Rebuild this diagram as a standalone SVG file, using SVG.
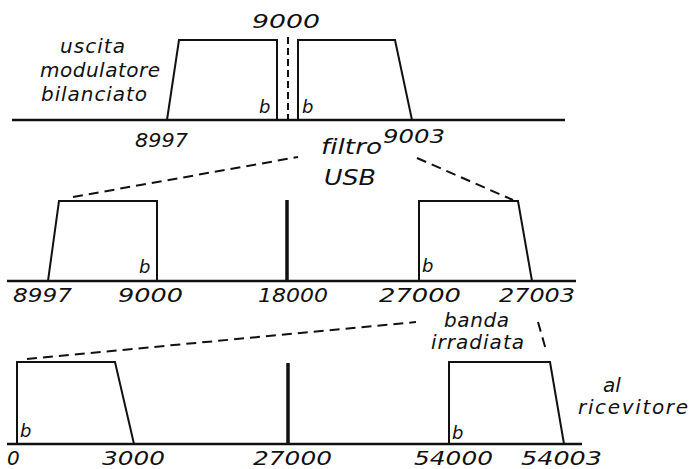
<svg xmlns="http://www.w3.org/2000/svg" width="692" height="469" viewBox="0 0 692 469">
<style>
.ln{fill:none;stroke:#111;stroke-width:2;stroke-linejoin:miter}
.ax{stroke:#111;stroke-width:2.5}
.car{stroke:#111;stroke-width:3.5}
.dash{fill:none;stroke:#111;stroke-width:2;stroke-dasharray:10 6}
.t{font-family:"DejaVu Sans","Liberation Sans",sans-serif;font-style:italic;font-size:20px;fill:#111;font-variant-ligatures:none}
.s{font-size:18px}
.l{font-size:22px}
</style>
<rect width="692" height="469" fill="#fff"/>
<g id="modulatore">
<line class="ax" x1="12" y1="120" x2="565" y2="120"/>
<polyline class="ln" points="167,120 179,40 277,40 277,120"/>
<polyline class="ln" points="298,120 298,40 395,40 412,120"/>
<line x1="288" y1="37" x2="288" y2="120" stroke="#111" stroke-width="2" stroke-dasharray="7 4"/>
<text class="t" x="252" y="28" textLength="68" lengthAdjust="spacingAndGlyphs">9000</text>
<text class="t" x="60" y="53" textLength="65" lengthAdjust="spacing">uscita</text>
<text class="t" x="40" y="77" textLength="120" lengthAdjust="spacing">modulatore</text>
<text class="t" x="41" y="101" textLength="106" lengthAdjust="spacing">bilanciato</text>
<text class="t s" x="259" y="113">b</text>
<text class="t s" x="302" y="113">b</text>
<text class="t" x="135" y="147" textLength="53" lengthAdjust="spacingAndGlyphs">8997</text>
<text class="t" x="383" y="143" textLength="62" lengthAdjust="spacingAndGlyphs">9003</text>
</g>
<g id="filtro-label">
<text class="t l" x="321" y="154" textLength="61" lengthAdjust="spacingAndGlyphs">filtro</text>
<text class="t l" x="324" y="185" textLength="52" lengthAdjust="spacingAndGlyphs">USB</text>
</g>
<g id="conversione">
<line class="ax" x1="7" y1="281" x2="576" y2="281"/>
<polyline class="ln" points="48,281 59,201 157,201 157,281"/>
<line class="car" x1="287" y1="200" x2="287" y2="281"/>
<polyline class="ln" points="419,281 419,201 518,201 532,281"/>
<text class="t s" x="139" y="273">b</text>
<text class="t s" x="422" y="272">b</text>
<text class="t" x="13" y="302" textLength="59" lengthAdjust="spacingAndGlyphs">8997</text>
<text class="t" x="118" y="302" textLength="65" lengthAdjust="spacingAndGlyphs">9000</text>
<text class="t" x="258" y="302" textLength="70" lengthAdjust="spacingAndGlyphs">18000</text>
<text class="t" x="379" y="302" textLength="82" lengthAdjust="spacingAndGlyphs">27000</text>
<text class="t" x="499" y="302" textLength="76" lengthAdjust="spacingAndGlyphs">27003</text>
</g>
<g id="irradiata">
<line class="ax" x1="7" y1="444" x2="582" y2="444"/>
<polyline class="ln" points="17,444 17,362 115,362 134,444"/>
<line class="car" x1="288" y1="363" x2="288" y2="444"/>
<polyline class="ln" points="449,444 449,362 550,362 564,444"/>
<text class="t s" x="20" y="437">b</text>
<text class="t s" x="452" y="439">b</text>
<text class="t" x="7" y="465">0</text>
<text class="t" x="102" y="465" textLength="63" lengthAdjust="spacingAndGlyphs">3000</text>
<text class="t" x="253" y="465" textLength="79" lengthAdjust="spacingAndGlyphs">27000</text>
<text class="t" x="414" y="465" textLength="79" lengthAdjust="spacingAndGlyphs">54000</text>
<text class="t" x="521" y="465" textLength="81" lengthAdjust="spacingAndGlyphs">54003</text>
<text class="t" x="444" y="327" textLength="65" lengthAdjust="spacing">banda</text>
<text class="t" x="431" y="349" textLength="93" lengthAdjust="spacing">irradiata</text>
<text class="t" x="603" y="392">al</text>
<text class="t" x="578" y="414" textLength="110" lengthAdjust="spacing">ricevitore</text>
</g>
<g id="connectors">
<line class="dash" x1="73" y1="197" x2="298" y2="157"/>
<line class="dash" x1="417" y1="158" x2="513" y2="200"/>
<line class="dash" x1="27" y1="359" x2="416" y2="322"/>
<line class="dash" x1="538" y1="322" x2="546" y2="350"/>
</g>
</svg>
